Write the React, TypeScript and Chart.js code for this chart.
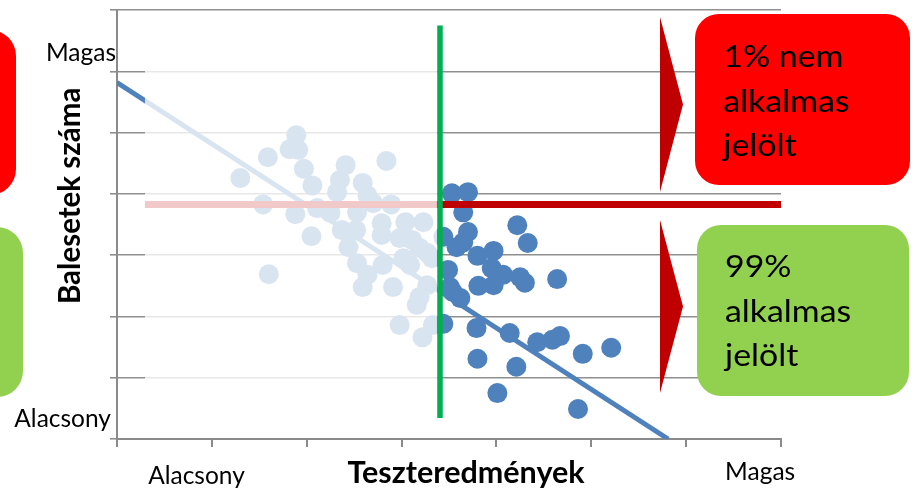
import React, { useEffect, useRef } from "react";
import { Chart, registerables } from "chart.js";

Chart.register(...registerables);

// ---- data (axis units: 0..7 on both axes) ----
const xTickValues = [0, 1, 2, 3, 4, 5, 6, 7];
const yTickValues = [0, 1, 2, 3, 4, 5, 6, 7];

// candidates below the cut-off score (shown faded)
const paleScores = [1.89, 1.82, 1.91, 1.59, 1.3, 1.97, 2.41, 2.84, 2.35, 2.06, 2.59, 2.32, 2.64, 1.54, 2.11, 1.88, 2.89, 2.25, 2.53, 2.7, 2.79, 3.04, 3.23, 2.05, 2.37, 2.52, 1.6, 2.44, 2.79, 2.98, 3.11, 3.19, 2.53, 2.64, 2.59, 2.8, 2.91, 3.02, 3.09, 3.27, 3.32, 3.27, 3.19, 3.16, 2.98, 3.22, 3.33];
const paleAccidents = [4.96, 4.73, 4.72, 4.6, 4.26, 4.41, 4.47, 4.54, 4.23, 4.14, 4.18, 4.03, 3.98, 3.83, 3.77, 3.67, 3.83, 3.69, 3.7, 3.85, 3.52, 3.54, 3.54, 3.31, 3.41, 3.41, 2.69, 3.13, 3.33, 3.28, 3.25, 3.12, 2.87, 2.68, 2.48, 2.84, 2.48, 2.95, 2.84, 3.04, 2.95, 2.51, 2.32, 2.19, 1.86, 1.66, 1.86];

// candidates above the cut-off score
const boldScores = [3.53, 3.7, 3.65, 3.44, 3.7, 3.58, 3.65, 3.8, 3.97, 4.22, 4.33, 3.49, 3.95, 4.07, 3.97, 3.81, 4.25, 4.3, 4.64, 3.51, 3.62, 3.54, 3.44, 3.79, 4.14, 4.43, 4.59, 4.67, 4.91, 5.21, 3.8, 4.21, 4.01, 4.86];
const boldAccidents = [4.01, 4.03, 3.7, 3.3, 3.38, 3.13, 3.21, 2.99, 3.07, 3.49, 3.2, 2.76, 2.79, 2.68, 2.51, 2.5, 2.64, 2.55, 2.61, 2.48, 2.3, 2.4, 1.88, 1.81, 1.73, 1.58, 1.62, 1.68, 1.39, 1.49, 1.31, 1.18, 0.75, 0.49];

const trendX = [0, 5.81];
const trendY = [5.82, 0];

const accidentLimit = 3.83;
const accidentLimitX = [0.295, 7];

const cutoffScore = 3.405;
const cutoffY = [0.343, 6.75];

const fadeX = [0.295, 3.373];
const fadeY = [0.343, 6.75];

const yEndLabels = ["Magas", "Alacsony"];
const yEndValues = [6.17, 0.196];
const xEndLabels = ["Alacsony", "Magas"];
const xEndValues = [0.838, 6.78];
const xTitle = "Teszteredmények";
const yTitle = "Balesetek száma";

const FONT = "Lato, 'Open Sans', sans-serif";

const overlayPlugin = {
  id: "overlay",
  afterDatasetsDraw(chart: any) {
    const { ctx, scales } = chart;
    const xs = scales.x;
    const ys = scales.y;
    ctx.save();
    // faded region left of the cut-off
    const x0 = xs.getPixelForValue(fadeX[0]);
    const x1 = xs.getPixelForValue(fadeX[1]);
    const y0 = ys.getPixelForValue(fadeY[1]);
    const y1 = ys.getPixelForValue(fadeY[0]);
    ctx.fillStyle = "rgba(255,255,255,0.79)";
    ctx.fillRect(x0, y0, x1 - x0, y1 - y0);
    // cut-off line
    const gx = xs.getPixelForValue(cutoffScore);
    ctx.strokeStyle = "#00b050";
    ctx.lineWidth = 5.5;
    ctx.beginPath();
    ctx.moveTo(gx, ys.getPixelForValue(cutoffY[1]));
    ctx.lineTo(gx, ys.getPixelForValue(cutoffY[0]));
    ctx.stroke();
    ctx.restore();
  },
  afterDraw(chart: any) {
    const { ctx, scales } = chart;
    const xs = scales.x;
    const ys = scales.y;
    ctx.save();
    ctx.fillStyle = "#000";
    ctx.font = `24.5px ${FONT}`;
    ctx.textBaseline = "alphabetic";
    ctx.textAlign = "right";
    ctx.fillText(yEndLabels[0], xs.left - 1, ys.getPixelForValue(yEndValues[0]));
    ctx.fillText(yEndLabels[1], xs.left - 6, ys.getPixelForValue(yEndValues[1]));
    ctx.textAlign = "center";
    ctx.fillText(xEndLabels[0], xs.getPixelForValue(xEndValues[0]), ys.bottom + 45);
    ctx.fillText(xEndLabels[1], xs.getPixelForValue(xEndValues[1]), ys.bottom + 41);
    ctx.font = `bold 30.5px ${FONT}`;
    ctx.fillText(xTitle, (xs.left + xs.right) / 2 + 17, ys.bottom + 44);
    ctx.font = `bold 29.5px ${FONT}`;
    ctx.translate(xs.left - 47, ys.getPixelForValue(3.97));
    ctx.rotate(-Math.PI / 2);
    ctx.textBaseline = "middle";
    ctx.fillText(yTitle, 0, 0);
    ctx.restore();
  },
};

const boxText: React.CSSProperties = {
  position: "absolute",
  fontFamily: FONT,
  fontSize: 30.5,
  lineHeight: "44.5px",
  color: "#000",
  transform: "scaleX(1.11)",
  transformOrigin: "left top",
  whiteSpace: "nowrap",
};

export default function App() {
  const ref = useRef<HTMLCanvasElement | null>(null);

  useEffect(() => {
    if (!ref.current) return;
    const chart = new Chart(ref.current, {
      type: "scatter",
      data: {
        datasets: [
          {
            label: "cut",
            data: accidentLimitX.map((x) => ({ x, y: accidentLimit })),
            showLine: true,
            borderColor: "#c00000",
            borderWidth: 7,
            pointRadius: 0,
            order: 1,
          },
          {
            label: "trend",
            data: trendX.map((x, i) => ({ x, y: trendY[i] })),
            showLine: true,
            borderColor: "#4f81bd",
            borderWidth: 5,
            pointRadius: 0,
            order: 2,
          },
          {
            label: "pale",
            data: paleScores.map((x, i) => ({ x, y: paleAccidents[i] })),
            backgroundColor: "#4f81bd",
            borderWidth: 0,
            pointRadius: 10,
            order: 3,
          },
          {
            label: "bold",
            data: boldScores.map((x, i) => ({ x, y: boldAccidents[i] })),
            backgroundColor: "#4f81bd",
            borderWidth: 0,
            pointRadius: 10,
            order: 3,
          },
        ],
      },
      options: {
        animation: false,
        responsive: false,
        devicePixelRatio: 1,
        events: [],
        layout: { padding: { left: 0, top: 10, right: 131, bottom: 0 } },
        plugins: { legend: { display: false }, tooltip: { enabled: false } },
        scales: {
          x: {
            type: "linear",
            min: xTickValues[0],
            max: xTickValues[xTickValues.length - 1],
            afterBuildTicks: (s: any) => {
              s.ticks = xTickValues.map((v) => ({ value: v }));
            },
            afterFit: (s: any) => {
              s.height = 56;
            },
            ticks: { callback: () => "" },
            grid: { drawOnChartArea: false, drawTicks: true, tickLength: 8, color: "#8a8a8a", lineWidth: 2 },
            border: { color: "#8a8a8a", width: 2 },
          },
          y: {
            type: "linear",
            min: yTickValues[0],
            max: yTickValues[yTickValues.length - 1],
            afterBuildTicks: (s: any) => {
              s.ticks = yTickValues.map((v) => ({ value: v }));
            },
            afterFit: (s: any) => {
              s.width = 117;
            },
            ticks: { callback: () => "" },
            grid: { drawTicks: true, tickLength: 7, color: "#8f8f8f", lineWidth: 1.6 },
            border: { color: "#8a8a8a", width: 2 },
          },
        },
      },
      plugins: [overlayPlugin],
    });
    return () => chart.destroy();
  }, []);

  return (
    <div style={{ position: "absolute", left: 0, top: 0, width: 912, height: 495, overflow: "hidden", background: "#fff" }}>
      <canvas ref={ref} width={912} height={495} style={{ position: "absolute", left: 0, top: 0, display: "block" }} />
      <div style={{ position: "absolute", left: -200, top: 30, width: 216, height: 165, background: "#ff0000", borderRadius: 26 }} />
      <div style={{ position: "absolute", left: -190, top: 227, width: 213, height: 170, background: "#92d050", borderRadius: 26 }} />
      <div style={{ position: "absolute", left: 660, top: 17, width: 23, height: 175, background: "#c00000", clipPath: "polygon(0 0, 100% 50%, 0 100%)" }} />
      <div style={{ position: "absolute", left: 660, top: 220, width: 23, height: 173, background: "#c00000", clipPath: "polygon(0 0, 100% 50%, 0 100%)" }} />
      <div style={{ position: "absolute", left: 695, top: 14, width: 215, height: 171, background: "#ff0000", borderRadius: 24 }}>
        <div style={{ ...boxText, left: 28, top: 19 }}>
          1% nem
          <br />
          alkalmas
          <br />
          jelölt
        </div>
      </div>
      <div style={{ position: "absolute", left: 697, top: 225, width: 212, height: 171, background: "#92d050", borderRadius: 24 }}>
        <div style={{ ...boxText, left: 28, top: 18 }}>
          99%
          <br />
          alkalmas
          <br />
          jelölt
        </div>
      </div>
    </div>
  );
}
